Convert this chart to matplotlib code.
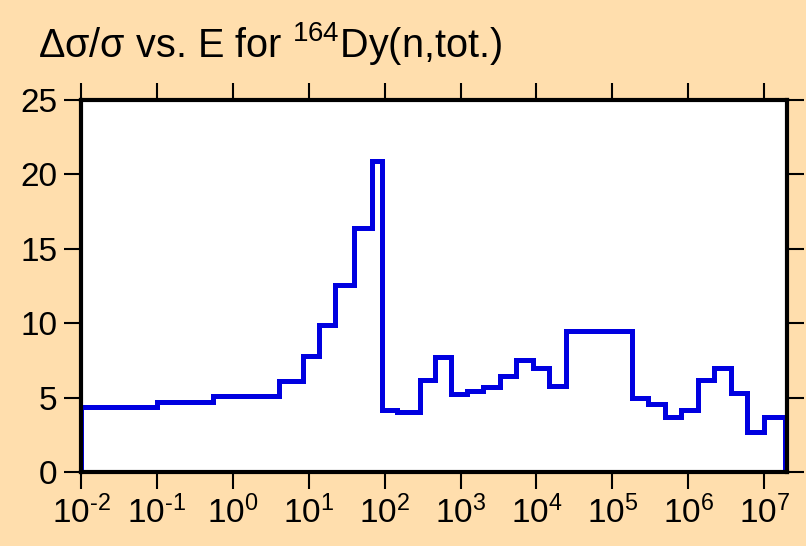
import numpy as np
import matplotlib
matplotlib.use('Agg')
import matplotlib.pyplot as plt
from matplotlib.ticker import FixedLocator, FuncFormatter

plt.rcParams['font.family'] = ['Liberation Sans', 'DejaVu Sans']
plt.rcParams['mathtext.fontset'] = 'custom'
plt.rcParams['mathtext.rm'] = 'Liberation Sans'
plt.rcParams['mathtext.it'] = 'Liberation Sans'
plt.rcParams['mathtext.bf'] = 'Liberation Sans:bold'

# group edges in eV and relative uncertainty in %
edges = [0.01, 0.1, 0.54, 4.0, 8.3, 13.5, 22.4, 40, 67.6, 91, 147, 290, 455, 738,
         1210, 2000, 3310, 5400, 9040, 14800, 24500, 1.82e5, 2.96e5, 4.9e5,
         7.96e5, 1.35e6, 2.19e6, 3.6e6, 5.9e6, 1.0e7, 1.9e7]
rel_unc = [4.4, 4.7, 5.1, 6.1, 7.8, 9.9, 12.6, 16.4, 20.9, 4.2, 4.05, 6.2, 7.75,
           5.25, 5.45, 5.7, 6.45, 7.55, 7.0, 5.8, 9.5, 4.95, 4.6, 3.7, 4.2, 6.2,
           7.0, 5.3, 2.7, 3.7]
xticks = [1e-2, 1e-1, 1e0, 1e1, 1e2, 1e3, 1e4, 1e5, 1e6, 1e7]
yticks = [0, 5, 10, 15, 20, 25]

bg = '#FFDEAD'
fig = plt.figure(figsize=(8.06, 5.46), dpi=100, facecolor=bg)
ax = fig.add_axes([0.1005, 0.1355, 0.876, 0.6813])
ax.set_facecolor('white')

ax.stairs(rel_unc, edges, baseline=0, fill=False, color='#0000e0', linewidth=3.6)

ax.set_xscale('log')
ax.set_xlim(1e-2, 2e7)
ax.set_ylim(0, 25)
ax.xaxis.set_major_locator(FixedLocator(xticks))
ax.xaxis.set_minor_locator(FixedLocator([]))
ax.xaxis.set_major_formatter(FuncFormatter(
    lambda v, p: r'$\mathregular{10^{\text{%d}}}$' % round(np.log10(v))))
ax.set_yticks(yticks)

for s in ax.spines.values():
    s.set_linewidth(3)
ax.tick_params(which='major', direction='out', length=12, width=1.5,
               labelsize=24, top=True, right=True, pad=5)

fig.text(0.047, 0.895, r'Δσ/σ vs. E for $^{164}$Dy(n,tot.)', fontsize=28.5, ha='left', va='baseline')

fig.savefig('out.png', dpi=100, facecolor=bg)
